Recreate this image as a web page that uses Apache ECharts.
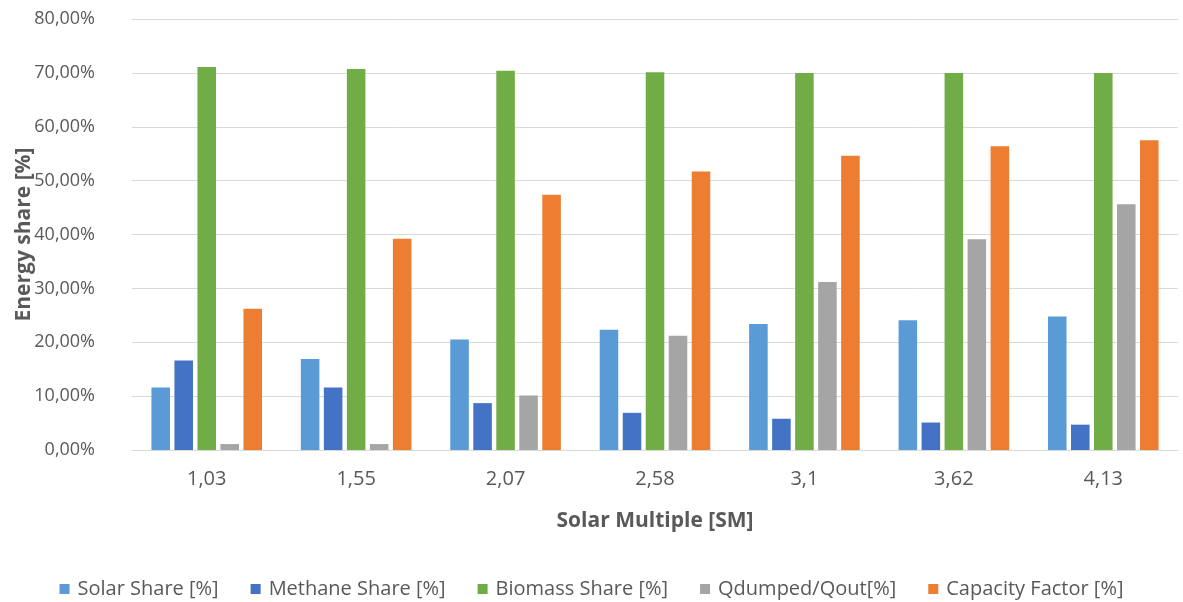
<!DOCTYPE html>
<html>
<head>
<meta charset="utf-8">
<script src="https://cdn.jsdelivr.net/npm/echarts@6/dist/echarts.min.js"></script>
<style>
  html, body { margin: 0; padding: 0; background: #ffffff; }
  #chart { width: 1183px; height: 602px; }
</style>
</head>
<body>
<div id="chart"></div>
<script>
// Solar multiple cases (x axis categories)
const solarMultiple = ['1,03', '1,55', '2,07', '2,58', '3,1', '3,62', '4,13'];

// Shares per case, in percent
const solarShare    = [11.6, 16.9, 20.5, 22.3, 23.4, 24.1, 24.8];
const methaneShare  = [16.6, 11.6,  8.7,  6.9,  5.8,  5.1,  4.7];
const biomassShare  = [71.1, 70.7, 70.4, 70.1, 70.0, 70.0, 70.0];
const qdumpedRatio  = [ 1.1,  1.1, 10.1, 21.2, 31.2, 39.1, 45.6];
const capacityFactor= [26.2, 39.2, 47.4, 51.7, 54.6, 56.4, 57.5];

const seriesNames = ['Solar Share [%]', 'Methane Share [%]', 'Biomass Share [%]', 'Qdumped/Qout[%]', 'Capacity Factor [%]'];
const seriesData  = [solarShare, methaneShare, biomassShare, qdumpedRatio, capacityFactor];
const seriesColors = ['#5B9BD5', '#4472C4', '#70AD47', '#A5A5A5', '#ED7D31'];

const FONT = '"Open Sans", "Noto Sans", sans-serif';
const TEXT = '#595959';

const chart = echarts.init(document.getElementById('chart'), null, { renderer: 'canvas' });

chart.setOption({
  animation: false,
  backgroundColor: '#ffffff',
  textStyle: { fontFamily: FONT, color: TEXT },
  grid: { left: 132, right: 5, top: 19, bottom: 152, containLabel: false, outerBoundsMode: 'none' },
  legend: {
    top: 574,
    left: 'center',
    itemWidth: 10,
    itemHeight: 10,
    itemGap: 32,
    icon: 'rect',
    textStyle: { fontFamily: FONT, fontSize: 20, color: TEXT, padding: [0, 0, 0, 3] },
    data: seriesNames
  },
  xAxis: {
    type: 'category',
    data: solarMultiple,
    name: 'Solar Multiple [SM]',
    nameLocation: 'middle',
    nameGap: 61,
    nameMoveOverlap: false,
    nameTextStyle: { fontFamily: FONT, fontSize: 21, fontWeight: 'bold', color: TEXT },
    axisLine: { lineStyle: { color: '#d9d9d9', width: 1 } },
    axisTick: { show: false },
    axisLabel: { margin: 19, fontFamily: FONT, fontSize: 20, color: TEXT }
  },
  yAxis: {
    type: 'value',
    min: 0,
    max: 80,
    interval: 10,
    name: 'Energy share [%]',
    nameLocation: 'middle',
    nameGap: 97,
    nameRotate: 90,
    nameMoveOverlap: false,
    nameTextStyle: { fontFamily: FONT, fontSize: 21, fontWeight: 'bold', color: TEXT },
    axisLine: { show: false },
    axisTick: { show: false },
    splitLine: { lineStyle: { color: '#d9d9d9', width: 1 } },
    axisLabel: {
      margin: 37,
      fontFamily: FONT,
      fontSize: 18,
      color: TEXT,
      formatter: v => v.toFixed(2).replace('.', ',') + '%'
    }
  },
  series: seriesNames.map((name, i) => ({
    name: name,
    type: 'bar',
    data: seriesData[i],
    barGap: '24%',
    barCategoryGap: '26%',
    itemStyle: { color: seriesColors[i] }
  }))
});
</script>
</body>
</html>
